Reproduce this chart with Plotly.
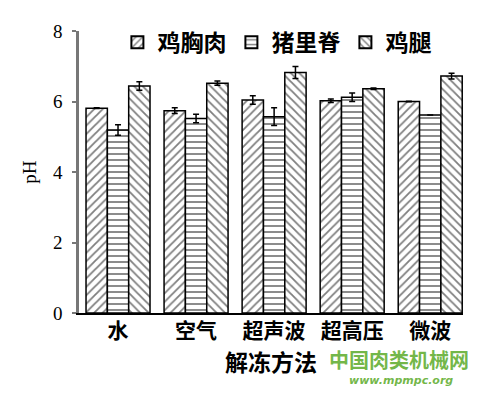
import plotly.graph_objects as go

categories = ["水", "空气", "超声波", "超高压", "微波"]
series_names = ["鸡胸肉", "猪里脊", "鸡腿"]
chicken_breast = [5.81, 5.74, 6.04, 6.02, 6.00]
chicken_breast_err = [0.01, 0.08, 0.12, 0.05, 0.01]
pork_loin = [5.19, 5.52, 5.57, 6.12, 5.62]
pork_loin_err = [0.15, 0.12, 0.25, 0.12, 0.0]
chicken_leg = [6.44, 6.52, 6.82, 6.36, 6.72]
chicken_leg_err = [0.12, 0.06, 0.17, 0.02, 0.08]
y_ticks = [0, 2, 4, 6, 8]

values = [chicken_breast, pork_loin, chicken_leg]
errors = [chicken_breast_err, pork_loin_err, chicken_leg_err]
shapes = ["/", "-", "\\"]

CJK = "Noto Sans CJK SC"
SERIF = "Liberation Serif"

fig = go.Figure()
for name, v, e, s in zip(series_names, values, errors, shapes):
    fig.add_trace(go.Bar(
        name=name, x=categories, y=v,
        error_y=dict(type="data", array=e, color="black", thickness=1.5, width=3),
        marker=dict(color="white", line=dict(color="black", width=1.5),
                    pattern=dict(shape=s, fgcolor="black", bgcolor="white", size=6, solidity=0.3)),
    ))

# page has an 8px body margin, so the figure is sized to fit the window
fig.update_layout(
    width=492, height=389,
    margin=dict(l=71, r=37, t=23, b=84),
    paper_bgcolor="white", plot_bgcolor="white",
    barmode="group", bargap=0.18, bargroupgap=0,
    showlegend=True,
    legend=dict(orientation="h", x=0.1, y=0.96, xanchor="left", yanchor="middle",
                font=dict(family=CJK, size=23, color="black", weight="bold"), bgcolor="rgba(0,0,0,0)",
                tracegroupgap=0, itemsizing="constant"),
    xaxis=dict(range=[-0.5, 4.42], showline=True, linecolor="black", linewidth=1.5, automargin=False,
               ticks="", ticklabelstandoff=-2, tickfont=dict(family=CJK, size=21, color="black", weight="bold"),
               title=dict(text="解冻方法", font=dict(family=CJK, size=23, color="black", weight="bold"), standoff=0)),
    yaxis=dict(range=[0, 8], tickvals=y_ticks, showline=True, linecolor="#777777", linewidth=2.5, automargin=False,
               ticks="outside", ticklen=4, tickcolor="#777777", tickwidth=2, showgrid=False, zeroline=False,
               ticklabelstandoff=6,
               tickfont=dict(family=SERIF, size=19, color="black"),
               title=dict(text="pH", font=dict(family=SERIF, size=19, color="black"), standoff=12)),
)

fig.add_annotation(x=(399 - 79) / 384, y=(313 - 359) / 282, xref="paper", yref="paper", text="中国肉类机械网",
                   showarrow=False, xanchor="center", yanchor="middle",
                   font=dict(family=CJK, size=20, color="rgba(90,170,40,0.85)", weight="bold"))
fig.add_annotation(x=(401 - 79) / 384, y=(313 - 380) / 282, xref="paper", yref="paper", text="<i>www.mpmpc.org</i>",
                   showarrow=False, xanchor="center", yanchor="middle",
                   font=dict(family="DejaVu Sans", size=11, color="rgba(90,170,40,0.85)", weight="bold"))

fig.write_html("out.html")
